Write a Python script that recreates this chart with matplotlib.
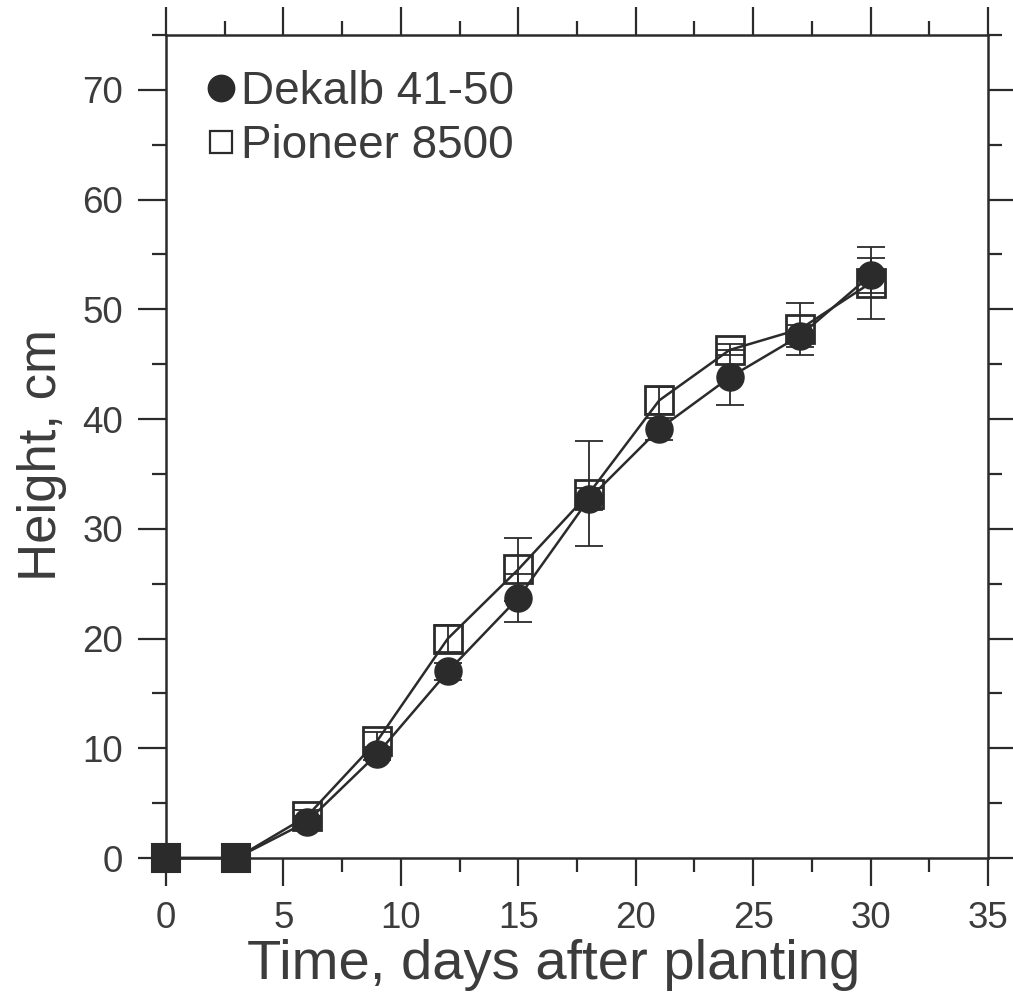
import numpy as np
import matplotlib
matplotlib.use("Agg")
import matplotlib.pyplot as plt
from matplotlib.lines import Line2D
from matplotlib.ticker import MultipleLocator

plt.rcParams['font.family'] = ['Liberation Sans', 'DejaVu Sans']

# data
days = [0, 3, 6, 9, 12, 15, 18, 21, 24, 27, 30]
dekalb = [0, 0, 3.3, 9.5, 17.0, 23.7, 32.7, 39.1, 43.8, 47.6, 53.1]
dekalb_err = [0, 0, 0.5, 0.6, 0.8, 2.2, 1.0, 1.0, 2.5, 1.0, 1.6]
pioneer = [0, 0, 3.8, 10.7, 20.0, 26.3, 33.2, 41.7, 46.3, 48.2, 52.4]
pioneer_err = [0, 0, 0.6, 0.8, 1.2, 2.9, 4.8, 1.2, 0.5, 2.4, 3.3]
labels = ['Dekalb 41-50', 'Pioneer 8500']

ink = '#2b2b2b'
txt = '#3c3c3c'

fig = plt.figure(figsize=(10.13, 10.08), dpi=100)
ax = fig.add_axes([0.1639, 0.1488, 0.8114, 0.8165])

x = np.array(days)
yd = np.array(dekalb)
yp = np.array(pioneer)

# error bars
ax.errorbar(x, yp, yerr=pioneer_err, fmt='none', ecolor=ink, elinewidth=1.3,
            capsize=10, capthick=1.3, zorder=2, clip_on=False)
ax.errorbar(x, yd, yerr=dekalb_err, fmt='none', ecolor=ink, elinewidth=1.3,
            capsize=10, capthick=1.3, zorder=2, clip_on=False)

# lines
ax.plot(x, yp, '-', color=ink, lw=1.8, zorder=3, clip_on=False)
ax.plot(x, yd, '-', color=ink, lw=1.8, zorder=3, clip_on=False)

# open squares (zero points look filled in the original)
zero = yp == 0
ax.plot(x[~zero], yp[~zero], 's', ms=19.5, mfc='none', mec=ink, mew=2.0,
        zorder=4, clip_on=False)
ax.plot(x[zero], yp[zero], 's', ms=20, mfc=ink, mec=ink, mew=1.5,
        zorder=6, clip_on=False)
# filled circles on top
ax.plot(x, yd, 'o', ms=19.5, mfc=ink, mec=ink, zorder=5, clip_on=False)

ax.set_xlim(0, 35)
ax.set_ylim(0, 75)
ax.xaxis.set_major_locator(MultipleLocator(5))
ax.xaxis.set_minor_locator(MultipleLocator(2.5))
ax.yaxis.set_major_locator(MultipleLocator(10))
ax.yaxis.set_minor_locator(MultipleLocator(5))
ax.set_yticks(np.arange(0, 71, 10))

ax.tick_params(which='both', direction='out', top=True, right=True,
               color=ink, width=1.6)
ax.tick_params(which='major', length=20, pad=11, labelsize=26.5, labelcolor=txt)
ax.tick_params(which='minor', length=10)
for sp in ax.spines.values():
    sp.set_color(ink)
    sp.set_linewidth(1.8)

ax.set_xlabel('Time, days after planting', fontsize=40.5, color=txt)
ax.xaxis.set_label_coords(0.471, -0.098)
ax.set_ylabel('Height, cm', fontsize=38, color=txt)
ax.yaxis.set_label_coords(-0.121, 0.49)

handles = [
    Line2D([], [], ls='none', marker='o', ms=19, mfc=ink, mec=ink),
    Line2D([], [], ls='none', marker='s', ms=16, mfc='none', mec=ink, mew=1.6),
]
leg = ax.legend(handles, labels, loc='upper left', bbox_to_anchor=(0.035, 0.968),
                frameon=False, fontsize=33, handlelength=0.75, handletextpad=0.05,
                labelspacing=0.2, borderpad=0.2, borderaxespad=0)
for t in leg.get_texts():
    t.set_color(txt)

fig.savefig('out.png', dpi=100)
